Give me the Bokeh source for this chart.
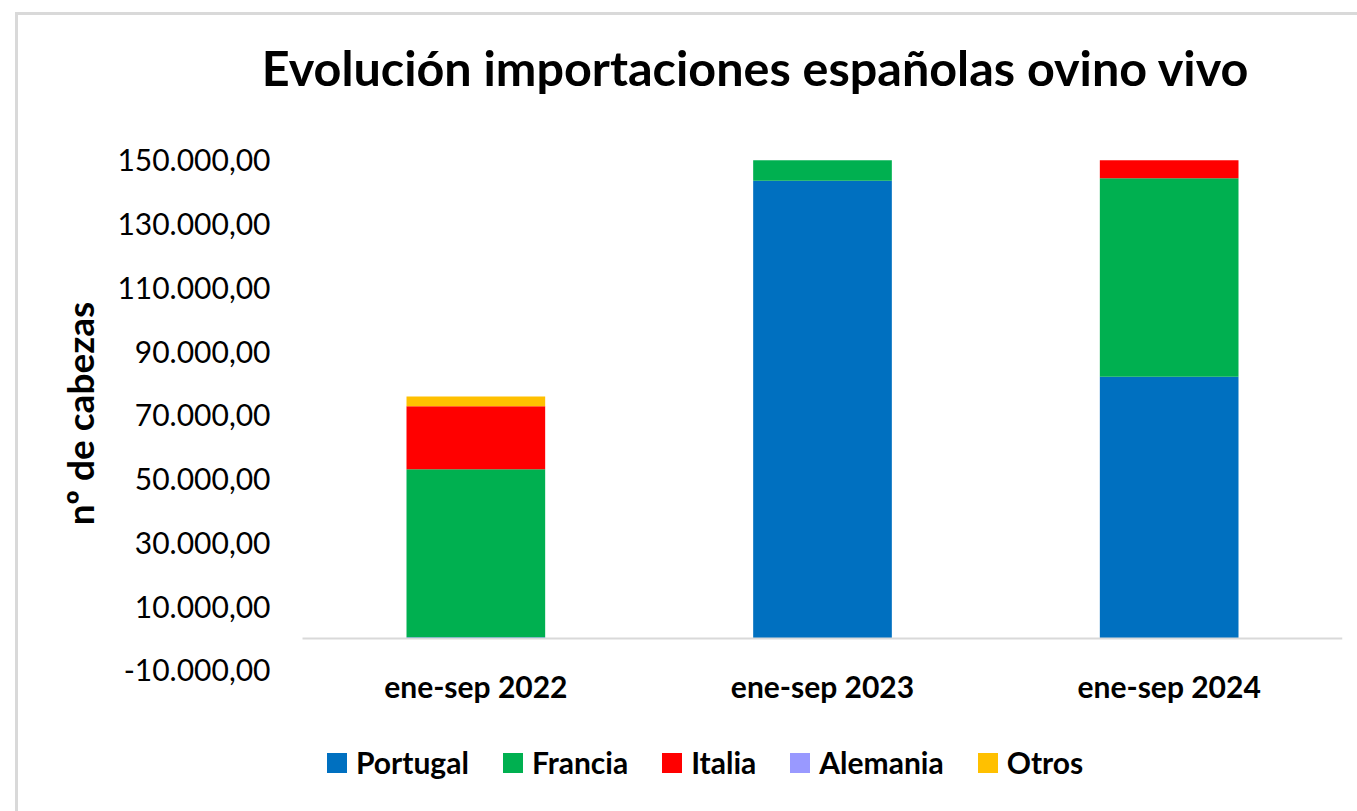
from bokeh.plotting import figure
from bokeh.models import (Range1d, FixedTicker, Legend, LegendItem, Div, Label, ColumnDataSource)
from bokeh.layouts import column
from bokeh.embed import file_html
from bokeh.resources import INLINE
from bokeh.core.properties import value

# ---- data ----
categories = ["ene-sep 2022", "ene-sep 2023", "ene-sep 2024"]
series = ["Portugal", "Francia", "Italia", "Alemania", "Otros"]
portugal = [400, 143600, 82100]
francia = [52700, 6400, 62300]
italia = [19800, 0, 5600]
alemania = [0, 0, 0]
otros = [3000, 0, 0]
colors = ["#0070C0", "#00B050", "#FF0000", "#9999FF", "#FFC000"]
yticks = [-10000, 10000, 30000, 50000, 70000, 90000, 110000, 130000, 150000]

title_text = "Evolución importaciones españolas ovino vivo"
ylabel_text = "nº de cabezas"
FONT = "Lato"


def fmt(v):
    s = f"{abs(v):,.2f}"  # 150,000.00
    s = s.replace(",", "X").replace(".", ",").replace("X", ".")
    return ("-" if v < 0 else "") + s


# category slots: one unit per category, bar centred in its slot
xpos = [i + 0.5 for i in range(len(categories))]
source = ColumnDataSource(dict(x=xpos, cat=categories, Portugal=portugal, Francia=francia,
                               Italia=italia, Alemania=alemania, Otros=otros))

# frame spans the full chart height; the value axis only ticks -10.000..150.000
p = figure(x_range=Range1d(-0.1356, len(categories)), y_range=Range1d(-51100, 192300),
           width=1357, height=811, output_backend="svg", toolbar_location=None,
           min_border_left=255, min_border_right=15, min_border_top=25,
           min_border_bottom=10)
p.outline_line_color = None
p.xgrid.grid_line_color = None
p.ygrid.grid_line_color = None
p.xaxis.visible = False

renderers = p.vbar_stack(series, x="x", width=0.4, color=colors, source=source,
                         line_color=None)

# category axis base line at 0
p.line(x=[0, len(categories)], y=[0, 0], line_color="#d9d9d9", line_width=2)

# category labels
p.text(x="x", y=value(-15000), text="cat", source=source,
       text_align="center", text_baseline="middle", text_font=value(FONT),
       text_font_style="bold", text_font_size="30px", text_color="#000000")

# title
p.add_layout(Label(x=1.307, y=179200, text=title_text, text_align="center",
                   text_baseline="middle", text_font=FONT, text_font_style="bold",
                   text_font_size="48.5px", text_color="#000000"))

# y axis
yax = p.yaxis[0]
yax.ticker = FixedTicker(ticks=yticks)
yax.major_label_overrides = {t: fmt(t) for t in yticks}
yax.axis_line_color = None
yax.major_tick_line_color = None
yax.minor_tick_line_color = None
yax.major_tick_out = 0
yax.major_tick_in = 0
yax.major_label_standoff = -15
yax.major_label_text_font = FONT
yax.major_label_text_font_size = "30px"
yax.major_label_text_color = "#000000"
yax.axis_label = ylabel_text
yax.axis_label_text_font = FONT
yax.axis_label_text_font_style = "bold"
yax.axis_label_text_font_size = "37px"
yax.axis_label_text_color = "#000000"
yax.axis_label_standoff = 12

# legend
items = [LegendItem(label=s, renderers=[r]) for s, r in zip(series, renderers)]
legend = Legend(items=items, orientation="horizontal", location=(69, 21),
                label_text_font=FONT, label_text_font_style="bold",
                label_text_font_size="30px", label_text_color="#000000",
                glyph_width=25, glyph_height=25, spacing=31, label_standoff=7,
                padding=0, margin=0, border_line_color=None,
                background_fill_alpha=0)
p.add_layout(legend, "center")

# outer chart border (light grey, left and top edges)
border = Div(text='<div style="position:fixed;left:15px;top:12px;width:3000px;'
                  'height:3000px;border-left:3px solid #d9d9d9;border-top:3px solid #d9d9d9;'
                  'box-sizing:border-box;pointer-events:none;"></div>',
             width=1, height=1)

layout = column(p, border, spacing=0)
open("out.html", "w").write(file_html(layout, INLINE))
